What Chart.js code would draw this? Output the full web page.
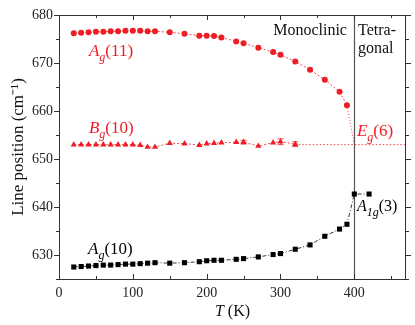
<!DOCTYPE html>
<html>
<head>
<meta charset="utf-8">
<script src="https://cdn.jsdelivr.net/npm/chart.js@4.4.1/dist/chart.umd.min.js"></script>
<style>
  body { margin: 0; background: #fff; }
  #wrap { width: 415px; height: 325px; }
</style>
</head>
<body>
<div id="wrap"><canvas id="chart"></canvas></div>
<script>
// Temperatures (K) and line positions (cm-1)
const ag11Temp = [20, 30, 40, 50, 60, 70, 80, 90, 100, 110, 120, 130, 150, 170, 190, 200, 210, 220, 240, 250, 270, 290, 300, 320, 340, 360, 380, 390];
const ag11Pos = [676.2, 676.3, 676.4, 676.5, 676.5, 676.6, 676.6, 676.7, 676.7, 676.7, 676.6, 676.6, 676.4, 676.1, 675.7, 675.7, 675.6, 675.3, 674.5, 674.1, 673.2, 672.3, 671.7, 670.3, 668.6, 666.5, 664.0, 661.2];

const bg10Temp = [20, 30, 40, 50, 60, 70, 80, 90, 100, 110, 120, 130, 150, 170, 190, 200, 210, 220, 240, 250, 270, 290, 300, 320];
const bg10Pos = [653.0, 653.0, 653.0, 653.0, 653.0, 653.0, 653.0, 653.0, 653.0, 652.9, 652.5, 652.5, 653.3, 653.2, 652.9, 653.2, 653.3, 653.4, 653.5, 653.5, 652.7, 653.4, 653.6, 653.1];
const bg10Err = [0, 0, 0, 0, 0, 0, 0, 0, 0, 0, 0, 0, 0, 0, 0, 0, 0, 0, 0, 0.4, 0, 0, 0.6, 0.5];

const ag10Temp = [20, 30, 40, 50, 60, 70, 80, 90, 100, 110, 120, 130, 150, 170, 190, 200, 210, 220, 240, 250, 270, 290, 300, 320, 340, 360, 380, 390, 400, 420];
const ag10Pos = [627.5, 627.6, 627.7, 627.8, 627.9, 627.9, 628.0, 628.1, 628.1, 628.2, 628.3, 628.4, 628.3, 628.4, 628.6, 628.8, 628.9, 628.9, 629.1, 629.25, 629.6, 630.1, 630.3, 631.2, 632.1, 633.9, 635.4, 636.4, 642.7, 642.7];

// guide lines: Ag(11) merging into Eg(6), and Eg(6) level across
const ag11TailTemp = [390, 400];
const ag11TailPos = [661.2, 653.0];
const eg6Temp = [320, 470];
const eg6Pos = [653.0, 653.0];

const transitionTemp = 400;

const red = '#ee1c24';
const black = '#000000';
const axisColor = '#333333';
const serif = '"Liberation Serif", "Times New Roman", serif';

function toPoints(xs, ys) {
    return xs.map((x, i) => ({ x: x, y: ys[i] }));
}

// write a label like A_g(11): italic letter, italic subscript, plain tail
function drawLabel(ctx, x, y, main, sub, tail, color, size) {
    ctx.fillStyle = color;
    ctx.textBaseline = 'alphabetic';
    ctx.textAlign = 'left';
    ctx.font = 'italic ' + size + 'px ' + serif;
    ctx.fillText(main, x, y);
    x += ctx.measureText(main).width;
    ctx.font = 'italic ' + Math.round(size * 0.72) + 'px ' + serif;
    ctx.fillText(sub, x, y + 5);
    x += ctx.measureText(sub).width;
    ctx.font = size + 'px ' + serif;
    ctx.fillText(tail, x, y);
}

const decorations = {
    id: 'decorations',
    beforeDatasetsDraw(chart) {
        const ctx = chart.ctx;
        const a = chart.chartArea;
        const xs = chart.scales.x;
        // phase boundary
        const px = Math.round(xs.getPixelForValue(transitionTemp)) + 0.5;
        ctx.save();
        ctx.strokeStyle = '#555';
        ctx.lineWidth = 1.2;
        ctx.beginPath();
        ctx.moveTo(px, a.top);
        ctx.lineTo(px, a.bottom);
        ctx.stroke();
        ctx.restore();
    },
    afterDatasetsDraw(chart) {
        const ctx = chart.ctx;
        const ys = chart.scales.y;
        const meta = chart.getDatasetMeta(1);
        ctx.save();
        ctx.strokeStyle = red;
        ctx.lineWidth = 0.8;
        bg10Err.forEach((e, i) => {
            if (!e) return;
            const pt = meta.data[i];
            const y1 = ys.getPixelForValue(bg10Pos[i] + e);
            const y2 = ys.getPixelForValue(bg10Pos[i] - e);
            ctx.beginPath();
            ctx.moveTo(pt.x, y1); ctx.lineTo(pt.x, y2);
            ctx.moveTo(pt.x - 3, y1); ctx.lineTo(pt.x + 3, y1);
            ctx.moveTo(pt.x - 3, y2); ctx.lineTo(pt.x + 3, y2);
            ctx.stroke();
        });
        ctx.restore();
    },
    afterDraw(chart) {
        const ctx = chart.ctx;
        const a = chart.chartArea;
        const xs = chart.scales.x;
        const ys = chart.scales.y;
        ctx.save();

        // frame on top and right
        ctx.strokeStyle = axisColor;
        ctx.lineWidth = 1;
        ctx.beginPath();
        ctx.moveTo(a.left, a.top + 0.5); ctx.lineTo(a.right, a.top + 0.5);
        ctx.moveTo(a.right - 0.5, a.top); ctx.lineTo(a.right - 0.5, a.bottom);
        ctx.stroke();

        // tick marks: x inward on bottom/top, y outward on left/right
        ctx.beginPath();
        for (let t = 0; t <= 470; t += 50) {
            const x = Math.round(xs.getPixelForValue(t)) + 0.5;
            const len = t % 100 === 0 ? 5 : 3;
            ctx.moveTo(x, a.bottom); ctx.lineTo(x, a.bottom - len);
            ctx.moveTo(x, a.top); ctx.lineTo(x, a.top + len);
        }
        for (let v = 625; v <= 680; v += 5) {
            const y = Math.round(ys.getPixelForValue(v)) + 0.5;
            const len = v % 10 === 0 ? 5 : 3;
            ctx.moveTo(a.left - len, y); ctx.lineTo(a.left, y);
            ctx.moveTo(a.right, y); ctx.lineTo(a.right + len, y);
        }
        ctx.stroke();

        // mode labels
        const X = v => xs.getPixelForValue(v);
        const Y = v => ys.getPixelForValue(v);
        drawLabel(ctx, X(40.6), Y(671.5), 'A', 'g', '(11)', red, 17);
        drawLabel(ctx, X(40.6), Y(655.4), 'B', 'g', '(10)', red, 17);
        drawLabel(ctx, X(39.3), Y(630.2), 'A', 'g', '(10)', black, 17);
        drawLabel(ctx, X(403.6), Y(654.8), 'E', 'g', '(6)', red, 17);
        drawLabel(ctx, X(403.6), Y(639.2), 'A', '1g', '(3)', black, 16);

        // phase names
        ctx.fillStyle = '#111';
        ctx.font = '16px ' + serif;
        ctx.textAlign = 'right';
        ctx.fillText('Monoclinic', X(390), Y(675.8));
        ctx.textAlign = 'left';
        ctx.fillText('Tetra-', X(405), Y(675.8));
        ctx.fillText('gonal', X(405), Y(672.1));

        // x axis title: italic T then (K)
        ctx.font = 'italic 16px ' + serif;
        const wT = ctx.measureText('T').width;
        ctx.font = '16px ' + serif;
        const wK = ctx.measureText(' (K)').width;
        let tx = (a.left + a.right) / 2 - (wT + wK) / 2;
        const ty = a.bottom + 37;
        ctx.fillStyle = '#111';
        ctx.font = 'italic 16px ' + serif;
        ctx.fillText('T', tx, ty);
        ctx.font = '16px ' + serif;
        ctx.fillText(' (K)', tx + wT, ty);

        ctx.restore();
    }
};

new Chart(document.getElementById('chart'), {
    type: 'scatter',
    data: {
        datasets: [
            {
                label: 'Ag(11)',
                data: toPoints(ag11Temp, ag11Pos),
                showLine: true,
                borderColor: red,
                borderWidth: 0.8,
                borderDash: [2, 2],
                pointStyle: 'circle',
                pointRadius: 3,
                pointBorderWidth: 0,
                pointBackgroundColor: red
            },
            {
                label: 'Bg(10)',
                data: toPoints(bg10Temp, bg10Pos),
                showLine: true,
                borderColor: red,
                borderWidth: 0.8,
                borderDash: [2, 2],
                pointStyle: 'triangle',
                pointRadius: 3.6,
                pointBorderWidth: 0,
                pointBackgroundColor: red
            },
            {
                label: 'Ag(10)',
                data: toPoints(ag10Temp, ag10Pos),
                showLine: true,
                borderColor: black,
                borderWidth: 0.8,
                borderDash: [4, 2, 1, 2],
                pointStyle: 'rect',
                pointRadius: 3.6,
                pointBorderWidth: 0,
                pointBackgroundColor: black
            },
            {
                label: 'tail',
                data: toPoints(ag11TailTemp, ag11TailPos),
                showLine: true,
                borderColor: red,
                borderWidth: 0.8,
                borderDash: [1, 2],
                pointRadius: 0
            },
            {
                label: 'Eg(6)',
                data: toPoints(eg6Temp, eg6Pos),
                showLine: true,
                borderColor: red,
                borderWidth: 0.8,
                borderDash: [1.5, 2],
                pointRadius: 0
            }
        ]
    },
    options: {
        responsive: true,
        maintainAspectRatio: false,
        animation: false,
        layout: { padding: { left: 0, top: 15, right: 9, bottom: 0 } },
        plugins: {
            legend: { display: false },
            tooltip: { enabled: false }
        },
        scales: {
            x: {
                type: 'linear',
                min: 0,
                max: 470,
                grid: { display: false, drawTicks: false },
                border: { display: true, color: axisColor, width: 1 },
                ticks: {
                    stepSize: 50,
                    autoSkip: false,
                    maxRotation: 0,
                    padding: 6,
                    color: '#222',
                    font: { family: serif, size: 14 },
                    callback: v => (v % 100 === 0 ? v : '')
                },
                afterFit: s => { s.height = 46; }
            },
            y: {
                type: 'linear',
                min: 625,
                max: 680,
                grid: { display: false, drawTicks: false },
                border: { display: true, color: axisColor, width: 1 },
                ticks: {
                    stepSize: 5,
                    autoSkip: false,
                    padding: 6,
                    color: '#222',
                    font: { family: serif, size: 14 },
                    callback: v => (v % 10 === 0 ? v : '')
                },
                title: {
                    display: true,
                    text: 'Line position (cm\u207B\u00B9)',
                    color: '#111',
                    font: { family: serif, size: 17 },
                    padding: { top: 8, bottom: 0 }
                },
                afterFit: s => { s.width = 59; }
            }
        }
    },
    plugins: [decorations]
});
</script>
</body>
</html>
